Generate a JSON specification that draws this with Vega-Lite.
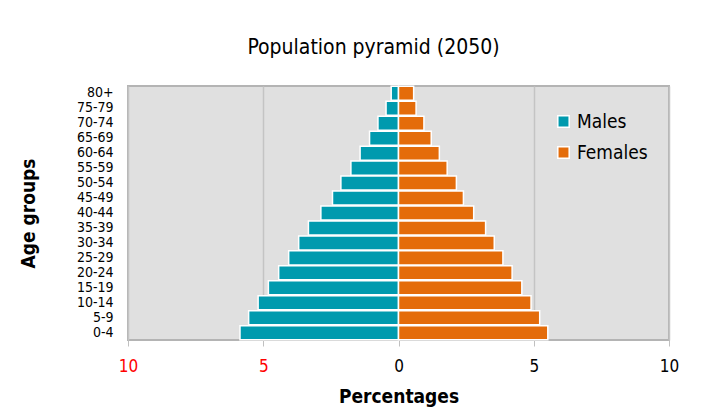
{
  "$schema": "https://vega.github.io/schema/vega-lite/v6.json",
  "autosize": "none",
  "width": 541,
  "height": 254,
  "padding": {"left": 128, "top": 86, "right": 32, "bottom": 72},
  "background": "white",
  "title": {
    "text": "Population pyramid (2050)",
    "frame": "group",
    "anchor": "middle",
    "dx": -25,
    "offset": 28,
    "fontSize": 21,
    "fontWeight": 500,
    "font": "DejaVu Sans Condensed, Roboto",
    "color": "black"
  },
  "config": {
    "view": {"fill": "#e0e0e0", "stroke": "#b4b4b4", "strokeWidth": 2},
    "font": "DejaVu Sans Condensed, Roboto"
  },
  "data": {
    "values": [
      {"age": "0-4", "sex": "Males", "value": -5.86},
      {"age": "5-9", "sex": "Males", "value": -5.54},
      {"age": "10-14", "sex": "Males", "value": -5.19},
      {"age": "15-19", "sex": "Males", "value": -4.81},
      {"age": "20-24", "sex": "Males", "value": -4.43},
      {"age": "25-29", "sex": "Males", "value": -4.06},
      {"age": "30-34", "sex": "Males", "value": -3.69},
      {"age": "35-39", "sex": "Males", "value": -3.33},
      {"age": "40-44", "sex": "Males", "value": -2.87},
      {"age": "45-49", "sex": "Males", "value": -2.44},
      {"age": "50-54", "sex": "Males", "value": -2.13},
      {"age": "55-59", "sex": "Males", "value": -1.76},
      {"age": "60-64", "sex": "Males", "value": -1.42},
      {"age": "65-69", "sex": "Males", "value": -1.07},
      {"age": "70-74", "sex": "Males", "value": -0.76},
      {"age": "75-79", "sex": "Males", "value": -0.46},
      {"age": "80+", "sex": "Males", "value": -0.27},
      {"age": "0-4", "sex": "Females", "value": 5.52},
      {"age": "5-9", "sex": "Females", "value": 5.22},
      {"age": "10-14", "sex": "Females", "value": 4.9},
      {"age": "15-19", "sex": "Females", "value": 4.56},
      {"age": "20-24", "sex": "Females", "value": 4.2},
      {"age": "25-29", "sex": "Females", "value": 3.86},
      {"age": "30-34", "sex": "Females", "value": 3.54},
      {"age": "35-39", "sex": "Females", "value": 3.22},
      {"age": "40-44", "sex": "Females", "value": 2.78},
      {"age": "45-49", "sex": "Females", "value": 2.4},
      {"age": "50-54", "sex": "Females", "value": 2.14},
      {"age": "55-59", "sex": "Females", "value": 1.8},
      {"age": "60-64", "sex": "Females", "value": 1.51},
      {"age": "65-69", "sex": "Females", "value": 1.21},
      {"age": "70-74", "sex": "Females", "value": 0.94},
      {"age": "75-79", "sex": "Females", "value": 0.65},
      {"age": "80+", "sex": "Females", "value": 0.56}
    ]
  },
  "mark": {"type": "bar", "stroke": "white", "strokeWidth": 1.5},
  "encoding": {
    "y": {
      "field": "age",
      "type": "nominal",
      "sort": ["80+", "75-79", "70-74", "65-69", "60-64", "55-59", "50-54", "45-49", "40-44", "35-39", "30-34", "25-29", "20-24", "15-19", "10-14", "5-9", "0-4"],
      "scale": {"paddingInner": 0.06, "paddingOuter": 0.02},
      "axis": {
        "title": "Age groups",
        "titleFontSize": 19,
        "titleFontWeight": "bold",
        "titleColor": "black",
        "titlePadding": 38,
        "labelFontSize": 14,
        "labelColor": "black",
        "labelPadding": 15,
        "ticks": false,
        "domain": false
      }
    },
    "x": {
      "field": "value",
      "type": "quantitative",
      "scale": {"domain": [-10, 10], "nice": false},
      "axis": {
        "title": "Percentages",
        "titleFontSize": 19,
        "titleFontWeight": "bold",
        "titleColor": "black",
        "titlePadding": 13,
        "values": [-10, -5, 0, 5, 10],
        "labelExpr": "abs(datum.value)",
        "labelFontSize": 17,
        "labelPadding": 12,
        "labelFlush": false,
        "labelColor": {"condition": {"test": "datum.value < 0", "value": "#ff0000"}, "value": "black"},
        "tickColor": "#c0c0c0",
        "tickSize": 6,
        "domain": false,
        "gridColor": "#c4c4c4",
        "gridWidth": 1.5
      }
    },
    "color": {
      "field": "sex",
      "type": "nominal",
      "scale": {"domain": ["Males", "Females"], "range": ["#009aae", "#e46c0a"]},
      "legend": {
        "title": null,
        "orient": "none",
        "legendX": 426,
        "legendY": 26,
        "symbolType": "square",
        "symbolSize": 130,
        "symbolStrokeColor": "white",
        "symbolStrokeWidth": 1.5,
        "labelFontSize": 19,
        "labelColor": "black",
        "rowPadding": 11,
        "labelOffset": 4
      }
    }
  }
}
